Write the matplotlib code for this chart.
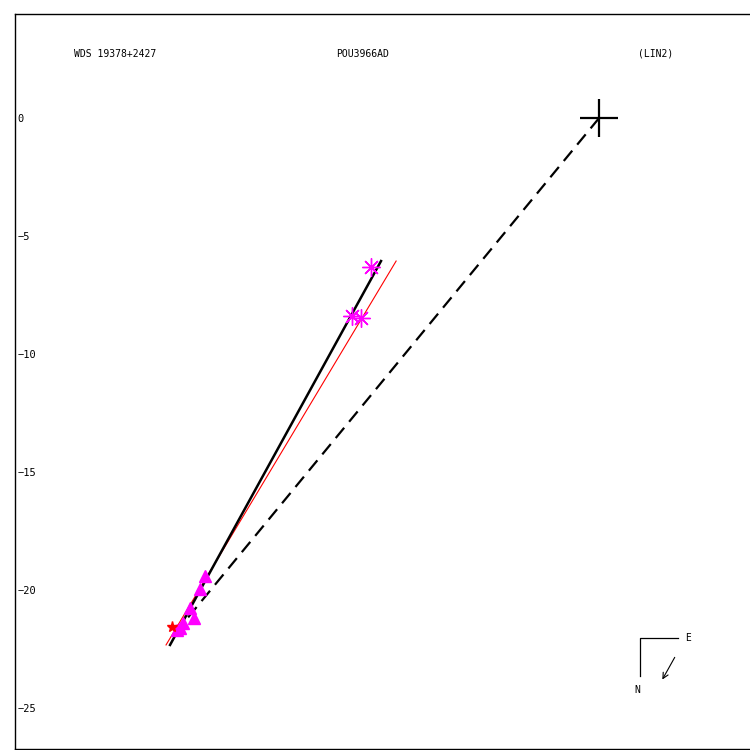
import matplotlib
matplotlib.use("Agg")
import matplotlib.pyplot as plt

# Data (in plot units, origin at primary star)
ast_x = [-9.66, -10.47, -10.08]
ast_y = [-6.31, -8.39, -8.47]
tri_x = [-16.69, -16.91, -17.33, -17.16, -17.63, -17.75, -17.88]
tri_y = [-19.41, -19.96, -20.76, -21.19, -21.40, -21.61, -21.69]
red_pt_x = [-18.09]
red_pt_y = [-21.57]
orbit_black_x = [-9.24, -18.18]
orbit_black_y = [-6.06, -22.33]
orbit_red_x = [-8.60, -18.35]
orbit_red_y = [-6.06, -22.33]
dash_x = [0.0, -17.75]
dash_y = [0.0, -21.57]
yticks = [0, -5, -10, -15, -20, -25]
title_left = "WDS 19378+2427"
title_mid = "POU3966AD"
title_right = "(LIN2)"

fig = plt.figure(figsize=(7.5, 7.5), dpi=100)
ax = fig.add_axes([15/750, 1/750, 737/750, 735/750])
ax.set_xlim(-24.75, 6.48)
ax.set_ylim(-26.74, 4.41)

ax.plot(dash_x, dash_y, color='black', lw=1.6, ls=(0, (6, 3.5)))
ax.plot(orbit_red_x, orbit_red_y, color='red', lw=0.8)
ax.plot(orbit_black_x, orbit_black_y, color='black', lw=1.8)
ax.plot(tri_x, tri_y, ls='none', marker='^', color='#ff00ff', ms=9, mec='#ff00ff')
ax.plot(red_pt_x, red_pt_y, ls='none', marker='*', color='red', ms=8)
ax.plot(ast_x, ast_y, ls='none', marker=(8, 2, 0), color='#ff00ff', ms=13, mew=1)
ax.plot([0], [0], ls='none', marker='+', color='black', ms=27, mew=1.6)

ax.set_xticks([])
ax.set_yticks(yticks)
ax.set_yticklabels([str(t).replace('-', '\u2212') for t in yticks],
                   fontfamily='DejaVu Sans Mono', fontsize=7.5)
ax.tick_params(axis='y', length=0, pad=-2)
for lab in ax.get_yticklabels():
    lab.set_horizontalalignment('left')

for s in ax.spines.values():
    s.set_linewidth(1.0)

fkw = dict(transform=ax.transAxes, fontfamily='DejaVu Sans Mono', fontsize=7, va='center')
ax.text(0.080, 0.9456, title_left, ha='left', **fkw)
ax.text(0.471, 0.9456, title_mid, ha='center', **fkw)
ax.text(0.845, 0.9456, title_right, ha='left', **fkw)

# compass
ax.plot([0.900, 0.848, 0.848], [0.151, 0.151, 0.0993], transform=ax.transAxes, color='black', lw=0.9)
ax.annotate('', xy=(0.8765, 0.0912), xytext=(0.897, 0.128), xycoords='axes fraction',
            arrowprops=dict(arrowstyle='->', lw=0.8, color='black'))
ax.text(0.909, 0.151, 'E', ha='left', **fkw)
ax.text(0.844, 0.080, 'N', ha='center', **fkw)

fig.savefig('out.png', dpi=100)
